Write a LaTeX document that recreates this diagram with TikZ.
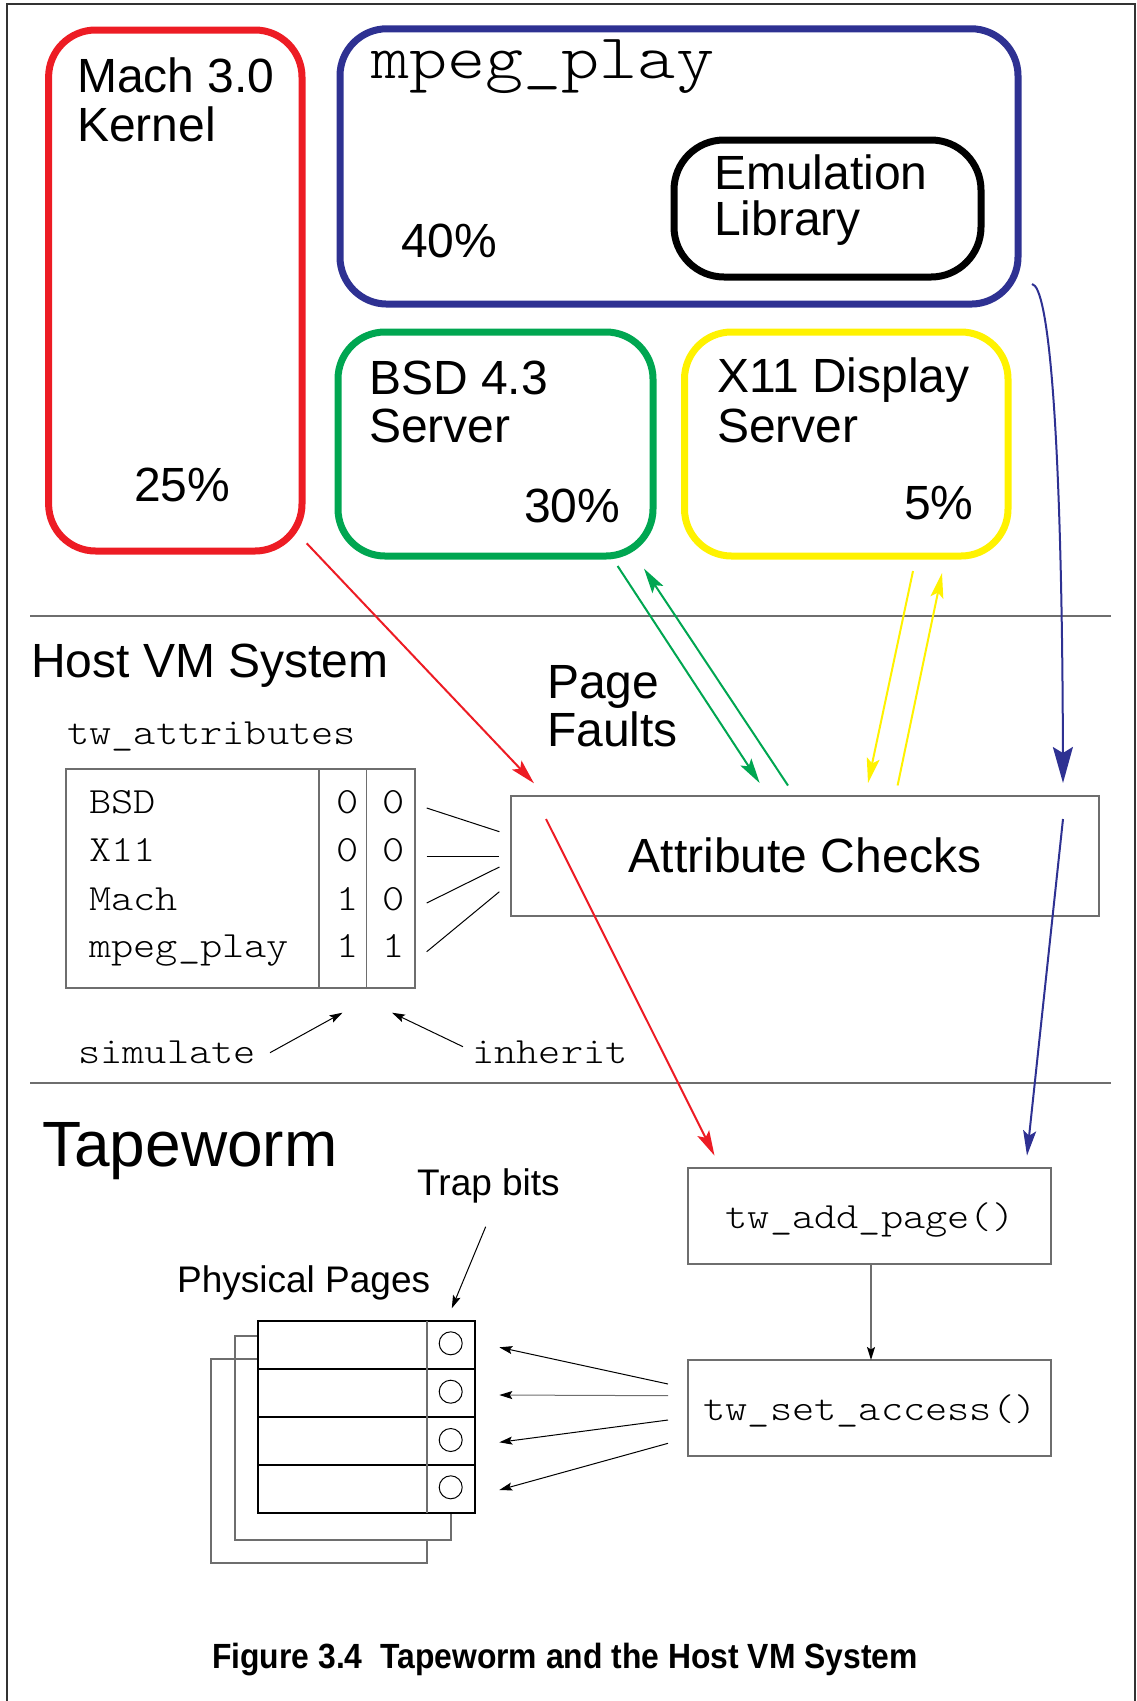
\documentclass[tikz,border=0pt]{standalone}
\usepackage{fontspec}
\setmainfont{Liberation Sans}
\setmonofont[FakeStretch=1.143]{Latin Modern Mono Light}
\newfontfamily\capfont[FakeStretch=0.91]{Liberation Sans}
\usetikzlibrary{arrows.meta}
\definecolor{cred}{HTML}{ED1C24}
\definecolor{cblue}{HTML}{2E3192}
\definecolor{cgreen}{HTML}{00A651}
\definecolor{cyel}{HTML}{FFF200}
\definecolor{cgray}{HTML}{6E6E6E}
\definecolor{cframe}{HTML}{333333}
\newcommand\FS[1]{\fontsize{#1}{#1}\selectfont}
\begin{document}
\begin{tikzpicture}[x=1pt,y=-1pt,
  rbox/.style={draw,line width=7pt,rounded corners=47pt,inner sep=0pt,outer sep=0pt},
  gbox/.style={draw=cgray,line width=2pt,inner sep=0pt,outer sep=0pt},
  lab/.style={inner sep=0pt,anchor=base west,font=\FS{48}},
  mono/.style={inner sep=0pt,anchor=base west,font=\ttfamily\FS{37}},
  monoc/.style={inner sep=0pt,anchor=base,font=\ttfamily\FS{37}},
  bighead/.style={-{Stealth[length=25pt,width=13pt,inset=5pt]},line width=2pt},
  smallhead/.style={-{Stealth[length=13pt,width=8pt,inset=2.5pt]},line width=1pt},
  sepline/.style={draw=cgray,line width=2pt},
  thinline/.style={draw=black,line width=1pt},
  backpage/.style={draw=cgray,line width=2pt},
]
\useasboundingbox (0,0) rectangle (1136,1701);
% frame
\draw[cframe,line width=2pt] (6.7,1702) -- (6.7,4) -- (1135,4) -- (1135,1702);

% top boxes
\node[rbox,draw=cred,minimum width=253.4pt,minimum height=521pt] (mach) at (175.3,290.5) {};
\node[lab] (machA) at (77,92) {Mach 3.0};
\node[lab] (machB) at (77,141) {Kernel};
\node[lab] (machP) at (134,501) {25\%};

\node[rbox,draw=cblue,minimum width=678pt,minimum height=275.3pt] (mpeg) at (679,166.4) {};
\node[inner sep=0pt,anchor=base west,font=\ttfamily\FS{63.5}] (mpegT) at (371,78) {mpeg\_play};
\node[lab] (mpegP) at (401,257) {40\%};

\node[rbox,draw=black,rounded corners=50pt,minimum width=307pt,minimum height=137pt] (emu) at (827.5,208.5) {};
\node[lab] (emuA) at (714,189) {Emulation};
\node[lab] (emuB) at (714,235) {Library};

\node[rbox,draw=cgreen,minimum width=315pt,minimum height=224pt] (bsd) at (495.5,444) {};
\node[lab] (bsdA) at (369,394) {BSD 4.3};
\node[lab] (bsdB) at (369,442) {Server};
\node[lab] (bsdP) at (524,522) {30\%};

\node[rbox,draw=cyel,minimum width=323.5pt,minimum height=224pt] (x11) at (846.25,444) {};
\node[lab] (x11A) at (717,392) {X11 Display};
\node[lab] (x11B) at (717,442) {Server};
\node[lab] (x11P) at (904,519) {5\%};

% separators
\coordinate (s1a) at (30,616); \coordinate (s1b) at (1111,616);
\coordinate (s2a) at (30,1083); \coordinate (s2b) at (1111,1083);
\draw[sepline] (s1a) -- (s1b);
\draw[sepline] (s2a) -- (s2b);

% Host VM section
\node[lab] (host) at (31,677) {Host VM System};
\node[lab] (pageA) at (547,698) {Page};
\node[lab] (pageB) at (547,746) {Faults};
\node[mono] (twattr) at (67,744) {tw\_attributes};

\node[draw=cgray,line width=1.5pt,inner sep=0pt,minimum width=349pt,minimum height=219pt] (tab) at (240.5,878.5) {};
\draw[cgray,line width=1.5pt] (319,769) -- (319,988);
\draw[cgray,line width=1.5pt] (366.6,769) -- (366.6,988);
\node[mono] (r1) at (89,813) {BSD};
\node[mono] (r2) at (89,861.7) {X11};
\node[mono] (r3) at (89,910) {Mach};
\node[mono] (r4) at (89,957.7) {mpeg\_play};
\node[monoc] (r1a) at (348,813) {0};
\node[monoc] (r1b) at (394,813) {0};
\node[monoc] (r2a) at (348,861.7) {0};
\node[monoc] (r2b) at (394,861.7) {0};
\node[monoc] (r3a) at (348,910) {1};
\node[monoc] (r3b) at (394,910) {0};
\node[monoc] (r4a) at (348,957.7) {1};
\node[monoc] (r4b) at (394,957.7) {1};

\node[gbox,minimum width=588pt,minimum height=120pt] (ac) at (805,856) {};
\node[inner sep=0pt,anchor=base,font=\FS{48}] (acT) at (805,872) {Attribute Checks};

% table to attribute checks
\coordinate (t1a) at (426.7,808);   \coordinate (t1b) at (499.4,831.7);
\coordinate (t2a) at (426.7,856);   \coordinate (t2b) at (499.4,856);
\coordinate (t3a) at (426.7,903);   \coordinate (t3b) at (499.4,867);
\coordinate (t4a) at (426.7,951.7); \coordinate (t4b) at (499.4,891.7);
\draw[thinline] (t1a) -- (t1b);
\draw[thinline] (t2a) -- (t2b);
\draw[thinline] (t3a) -- (t3b);
\draw[thinline] (t4a) -- (t4b);

\node[mono] (sim) at (78,1063) {simulate};
\node[mono] (inh) at (472,1063) {inherit};
\coordinate (simS) at (270,1052.7); \coordinate (simE) at (342.5,1012.7);
\coordinate (inhS) at (463,1046.7); \coordinate (inhE) at (392,1012.7);
\draw[smallhead] (simS) -- (simE);
\draw[smallhead] (inhS) -- (inhE);

% colored arrows
\coordinate (r1s) at (306.7,543.3); \coordinate (r1e) at (534,783.3);
\coordinate (r2s) at (546,819);     \coordinate (r2e) at (714.5,1155.6);
\coordinate (g1s) at (617.6,566);   \coordinate (g1e) at (759.6,783);
\coordinate (g2s) at (788,785.5);   \coordinate (g2e) at (644,568.6);
\coordinate (y1s) at (913,571);     \coordinate (y1e) at (868,783);
\coordinate (y2s) at (897.6,785.5); \coordinate (y2e) at (942,573);
\coordinate (b1s) at (1032,284);    \coordinate (b1e) at (1063,783);
\coordinate (b2s) at (1063,819);    \coordinate (b2e) at (1027,1155.6);
\draw[bighead,cred] (r1s) -- (r1e);
\draw[bighead,cred] (r2s) -- (r2e);
\draw[bighead,cgreen] (g1s) -- (g1e);
\draw[bighead,cgreen] (g2s) -- (g2e);
\draw[bighead,cyel] (y1s) -- (y1e);
\draw[bighead,cyel] (y2s) -- (y2e);
\draw[cblue,line width=2pt,-{Stealth[length=36pt,width=20pt,inset=6pt]}] (b1s) .. controls (1048,286) and (1062,420) .. (b1e);
\draw[bighead,cblue] (b2s) -- (b2e);

% Tapeworm section
\node[inner sep=0pt,anchor=base west,font=\FS{64}] (tape) at (42,1166) {Tapeworm};
\node[inner sep=0pt,anchor=base west,font=\FS{37}] (trap) at (417,1195) {Trap bits};
\node[inner sep=0pt,anchor=base west,font=\FS{37}] (phys) at (177,1292) {Physical Pages};

\node[gbox,minimum width=363pt,minimum height=96pt] (add) at (869.6,1216) {};
\node[monoc] (addT) at (870,1228) {tw\_add\_page()};
\node[gbox,minimum width=363pt,minimum height=96pt] (set) at (869.6,1408) {};
\node[monoc] (setT) at (870,1420) {tw\_set\_access()};
\draw[cgray,line width=1.5pt,-{Stealth[length=13pt,width=8pt,inset=2.5pt,color=black]}] (add.south -| 871,0) -- (set.north -| 871,0);

% physical pages
\draw[backpage] (258,1359.3) -- (210.7,1359.3) -- (210.7,1563.3) -- (426.8,1563.3) -- (426.8,1540);
\draw[backpage] (258,1335.7) -- (234.6,1335.7) -- (234.6,1540) -- (451,1540) -- (451,1514);
\node[draw=black,line width=2pt,fill=white,inner sep=0pt,minimum width=217pt,minimum height=192pt] (pages) at (366.5,1416.7) {};
\draw[black,line width=2pt] (258,1369.3) -- (475,1369.3);
\draw[black,line width=2pt] (258,1416.7) -- (475,1416.7);
\draw[black,line width=2pt] (258,1465) -- (475,1465);
\draw[cgray,line width=1.5pt] (426.8,1320.7) -- (426.8,1512.7);
\node[draw=black,line width=1pt,circle,inner sep=0pt,minimum size=23pt] (c1) at (450.7,1343.3) {};
\node[draw=black,line width=1pt,circle,inner sep=0pt,minimum size=23pt] (c2) at (450.7,1391.7) {};
\node[draw=black,line width=1pt,circle,inner sep=0pt,minimum size=23pt] (c3) at (450.7,1440) {};
\node[draw=black,line width=1pt,circle,inner sep=0pt,minimum size=23pt] (c4) at (450.7,1487.3) {};

\coordinate (tbS) at (485.7,1226.7); \coordinate (tbE) at (451.8,1308.3);
\draw[smallhead] (tbS) -- (tbE);

\coordinate (a1s) at (668,1384);   \coordinate (a1e) at (499.3,1347.3);
\coordinate (a2s) at (668,1395.7); \coordinate (a2e) at (499.3,1395);
\coordinate (a3s) at (668,1420);   \coordinate (a3e) at (499.3,1442.3);
\coordinate (a4s) at (668,1443.3); \coordinate (a4e) at (499.3,1490);
\draw[smallhead] (a1s) -- (a1e);
\draw[smallhead,draw=cgray,-{Stealth[length=13pt,width=8pt,inset=2.5pt,color=black]}] (a2s) -- (a2e);
\draw[smallhead] (a3s) -- (a3e);
\draw[smallhead] (a4s) -- (a4e);

% caption
\node[inner sep=0pt,anchor=base,font=\capfont\bfseries\FS{35}] (cap) at (565,1668) {Figure 3.4\ \ Tapeworm and the Host VM System};
\end{tikzpicture}
\end{document}
